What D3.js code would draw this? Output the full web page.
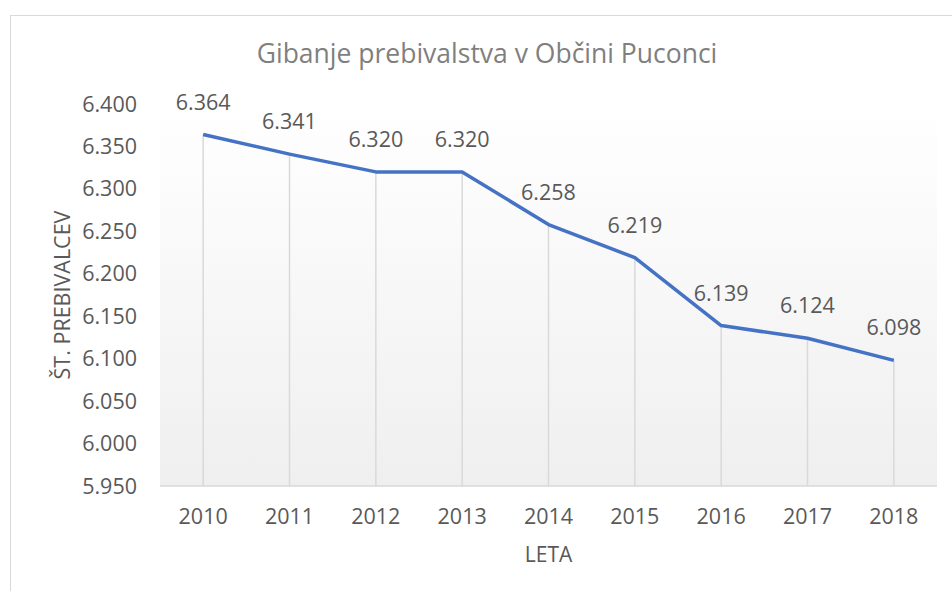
<!DOCTYPE html>
<html>
<head>
<meta charset="utf-8">
<script src="https://cdn.jsdelivr.net/npm/d3@7"></script>
<style>
  body { margin: 0; background: #fff; }
  text { font-family: "Open Sans", sans-serif; fill: #595959; }
</style>
</head>
<body>
<script>
const years = ['2010', '2011', '2012', '2013', '2014', '2015', '2016', '2017', '2018'];
const population = [6364, 6341, 6320, 6320, 6258, 6219, 6139, 6124, 6098];
const yTicks = [5950, 6000, 6050, 6100, 6150, 6200, 6250, 6300, 6350, 6400];

const width = 952;
const height = 591;
const margin = { top: 104, right: 15, bottom: 105, left: 160 };

const fmt = v => d3.format('.3f')(v / 1000);

const svg = d3.select('body').append('svg')
  .attr('width', width)
  .attr('height', height);

// chart frame
svg.append('rect')
  .attr('x', 10.5).attr('y', 15.5)
  .attr('width', 960).attr('height', 600)
  .attr('fill', '#fff')
  .attr('stroke', '#d9d9d9');

const grad = svg.append('defs').append('linearGradient')
  .attr('id', 'bg')
  .attr('x1', 0).attr('y1', 0).attr('x2', 0).attr('y2', 1);
grad.append('stop').attr('offset', '0%').attr('stop-color', '#ffffff');
grad.append('stop').attr('offset', '100%').attr('stop-color', '#efefef');

const x = d3.scaleBand()
  .domain(years)
  .range([margin.left, width - margin.right]);

const y = d3.scaleLinear()
  .domain([5950, 6400])
  .range([height - margin.bottom, margin.top]);

svg.append('rect')
  .attr('x', margin.left)
  .attr('y', margin.top)
  .attr('width', width - margin.right - margin.left)
  .attr('height', height - margin.bottom - margin.top)
  .attr('fill', 'url(#bg)');

const cx = d => x(d) + x.bandwidth() / 2;

// drop lines
svg.append('g')
  .selectAll('line')
  .data(years)
  .join('line')
  .attr('x1', d => cx(d))
  .attr('x2', d => cx(d))
  .attr('y1', (d, i) => y(population[i]))
  .attr('y2', y(5950))
  .attr('stroke', '#d9d9d9')
  .attr('stroke-width', 1.5);

// x axis line
svg.append('line')
  .attr('x1', margin.left).attr('x2', width - margin.right)
  .attr('y1', y(5950)).attr('y2', y(5950))
  .attr('stroke', '#d9d9d9')
  .attr('stroke-width', 1.5);

// y tick labels
svg.append('g')
  .selectAll('text')
  .data(yTicks)
  .join('text')
  .attr('x', 137)
  .attr('y', d => y(d) + 7.5)
  .attr('text-anchor', 'end')
  .attr('font-size', 21.5)
  .text(fmt);

// x tick labels
svg.append('g')
  .selectAll('text')
  .data(years)
  .join('text')
  .attr('x', cx)
  .attr('y', 524)
  .attr('text-anchor', 'middle')
  .attr('font-size', 21.5)
  .text(d => d);

// line
svg.append('path')
  .datum(population)
  .attr('fill', 'none')
  .attr('stroke', '#4472C4')
  .attr('stroke-width', 3.5)
  .attr('stroke-linejoin', 'round')
  .attr('d', d3.line()
    .x((d, i) => cx(years[i]))
    .y(d => y(d)));

// data labels
svg.append('g')
  .selectAll('text')
  .data(population)
  .join('text')
  .attr('x', (d, i) => cx(years[i]))
  .attr('y', d => y(d) - 25)
  .attr('text-anchor', 'middle')
  .attr('font-size', 21.5)
  .text(fmt);

// title
svg.append('text')
  .attr('x', 487)
  .attr('y', 63)
  .attr('text-anchor', 'middle')
  .attr('font-size', 26.5)
  .style('fill', '#7f7f7f')
  .text('Gibanje prebivalstva v Občini Puconci');

// axis titles
svg.append('text')
  .attr('x', (margin.left + width - margin.right) / 2)
  .attr('y', 562)
  .attr('text-anchor', 'middle')
  .attr('font-size', 21)
  .text('LETA');

svg.append('text')
  .attr('transform', `translate(70,${(y(5950) + y(6400)) / 2}) rotate(-90)`)
  .attr('text-anchor', 'middle')
  .attr('font-size', 21.5)
  .text('ŠT. PREBIVALCEV');
</script>
</body>
</html>
